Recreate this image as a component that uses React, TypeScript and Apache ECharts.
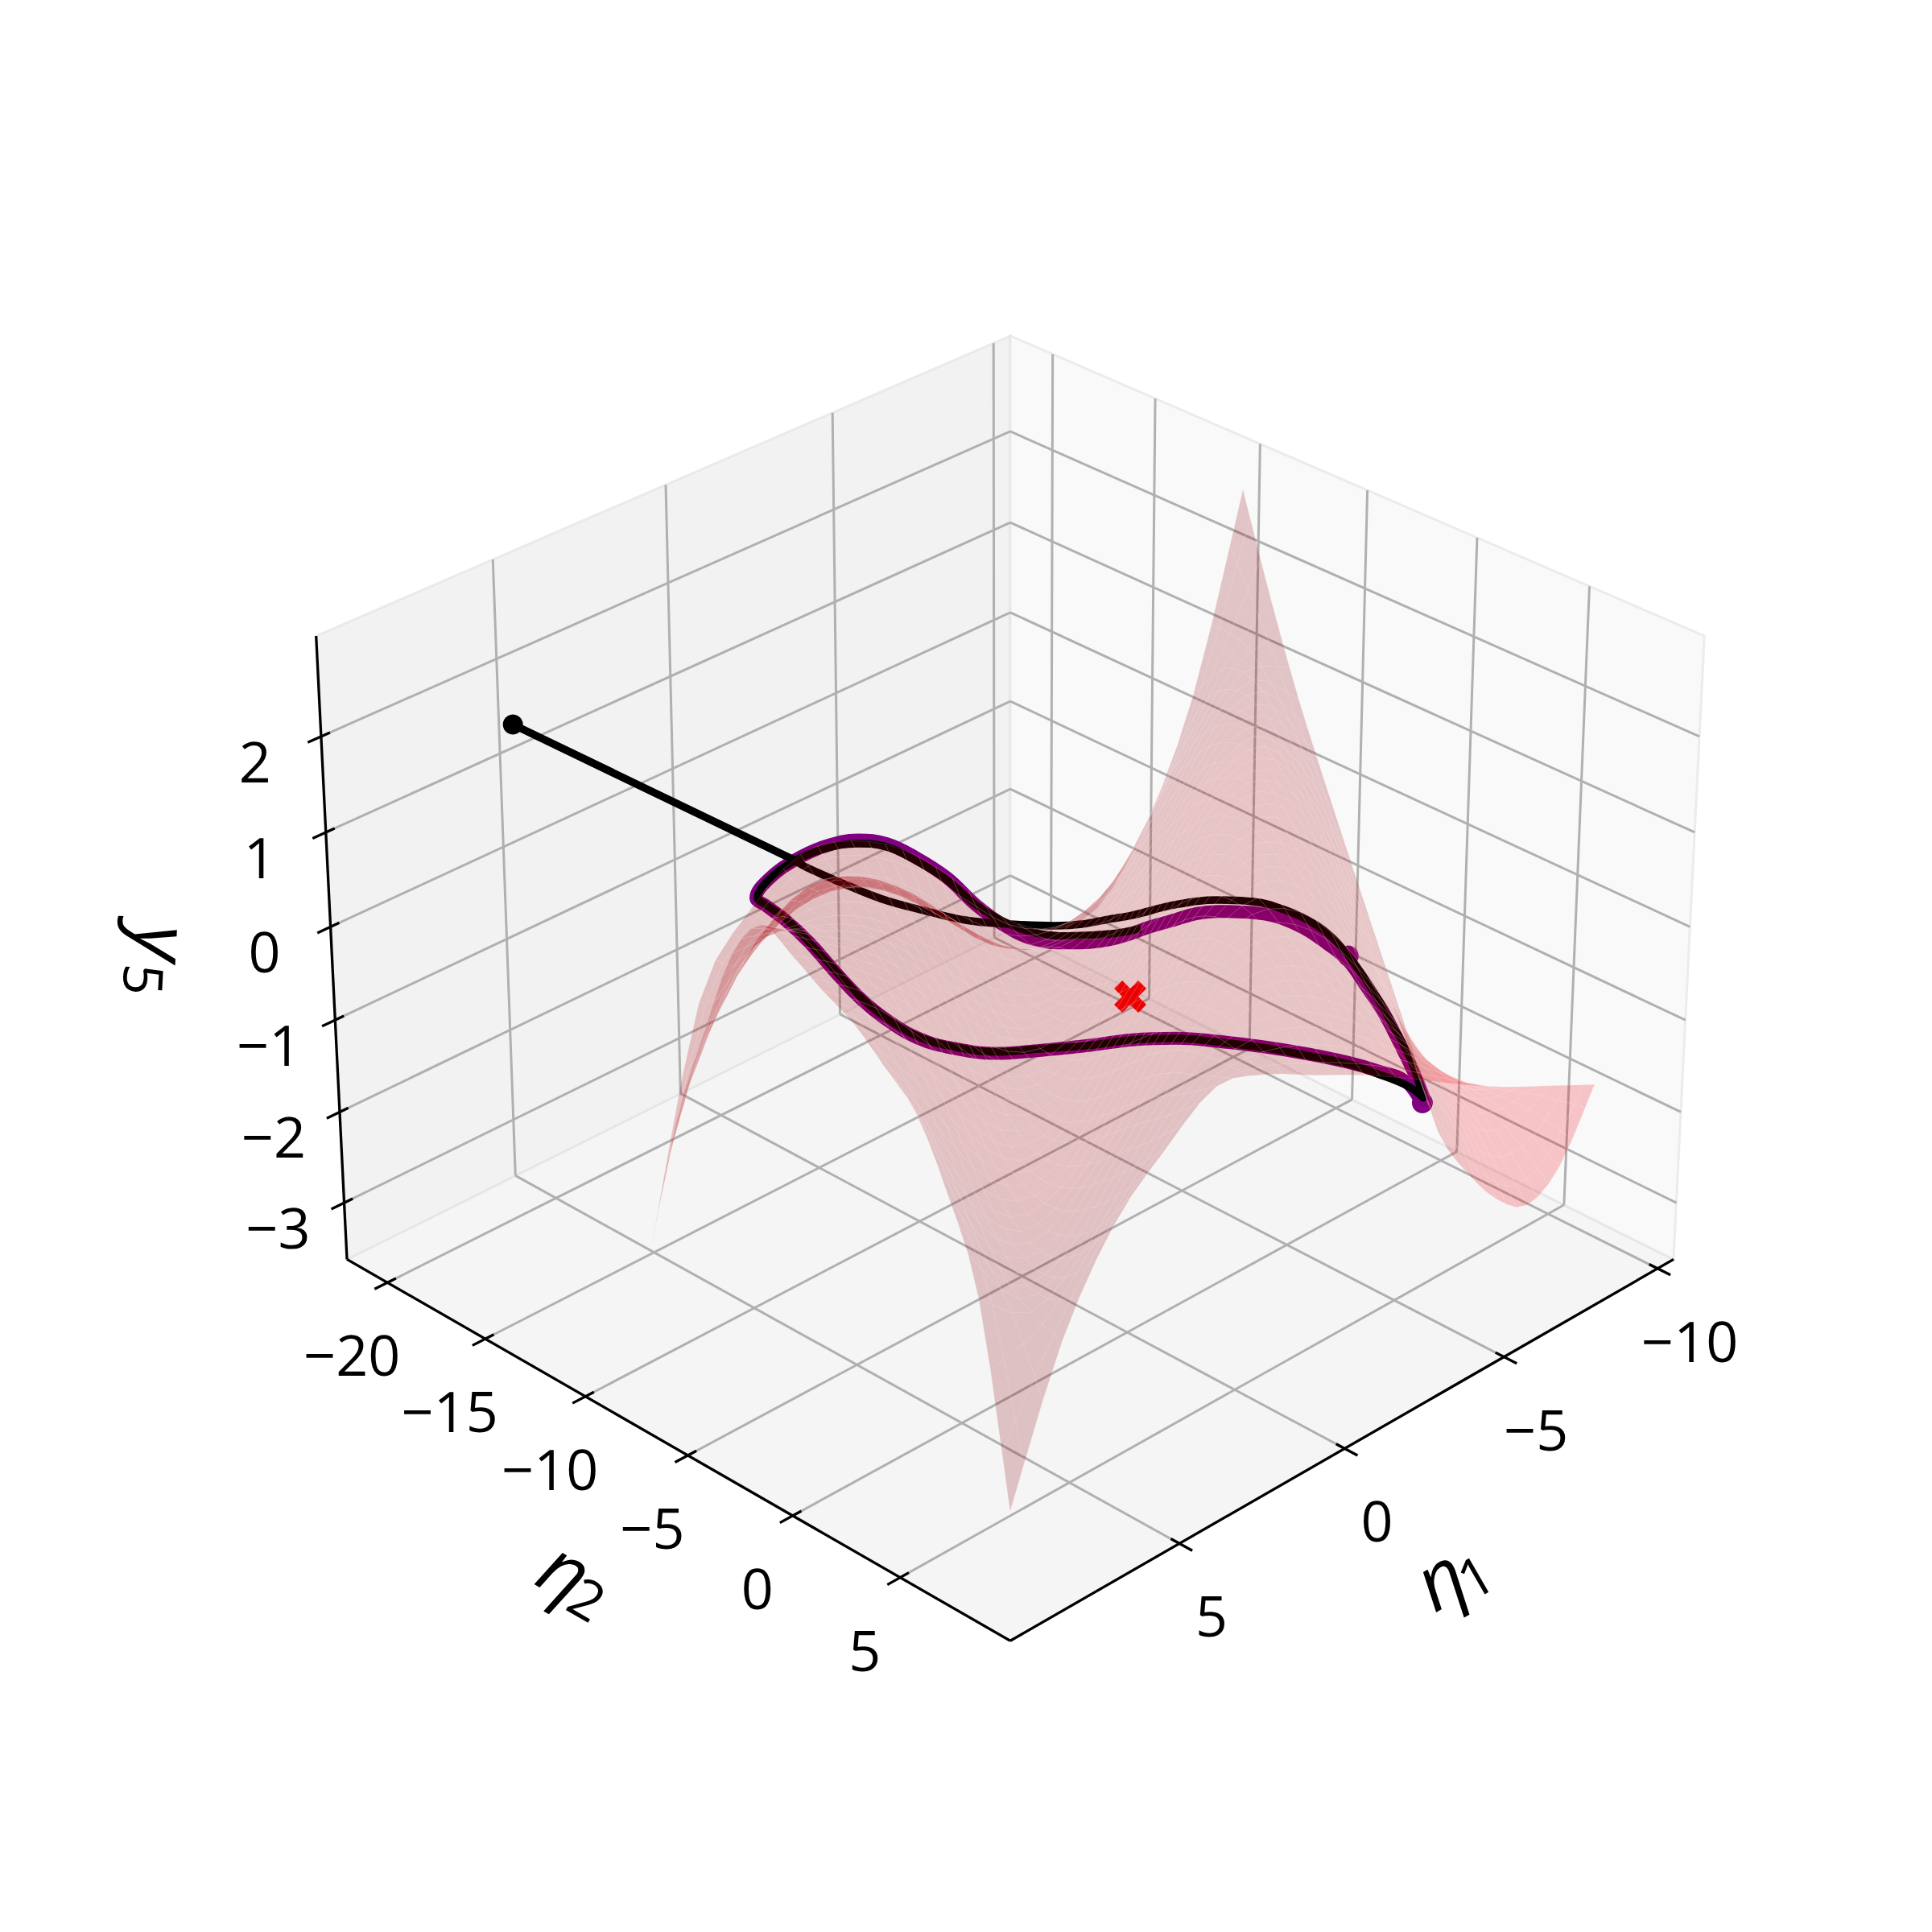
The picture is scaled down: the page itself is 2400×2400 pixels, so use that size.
import React, { useEffect, useRef } from "react";
import * as echarts from "echarts";

const eta1Ticks = [-10, -5, 0, 5];
const eta2Ticks = [-20, -15, -10, -5, 0, 5];
const y5Ticks = [-3, -2, -1, 0, 1, 2];

const eta1Grid = [-8.87,-7.39,-5.91,-4.43,-2.96,-1.48,0,1.48,2.96,4.43,5.91,7.39,8.87];
const eta2Grid = [-8.33,-6.94,-5.55,-4.17,-2.78,-1.39,0,1.39,2.78,4.17,5.55,6.94,8.33];
// y5 on the manifold: one row per eta1Grid value, one column per eta2Grid value
const y5Surface: number[][] = [
  [2.97,1.95,1.02,0.22,-0.56,-1.33,-2.10,-2.93,-3.22,-3.35,-3.25,-2.65,-1.59],
  [1.02,1.45,1.48,1.16,0.61,-0.04,-0.71,-1.35,-1.81,-2.10,-2.15,-1.87,-1.33],
  [-0.15,0.65,1.16,1.39,1.31,0.95,0.42,-0.15,-0.65,-1.05,-1.27,-1.26,-1.07],
  [-0.78,-0.12,0.39,0.87,1.22,1.32,1.11,0.72,0.25,-0.19,-0.53,-0.71,-0.77],
  [-0.75,-0.48,-0.22,0.16,0.60,0.98,1.17,1.12,0.85,0.46,0.08,-0.23,-0.44],
  [-0.35,-0.50,-0.37,-0.32,-0.04,0.34,0.71,0.96,1.00,0.83,0.53,0.18,-0.13],
  [0.32,-0.18,-0.12,-0.44,-0.41,-0.22,0.10,0.44,0.70,0.80,0.71,0.46,0.14],
  [0.88,0.38,0.39,-0.12,-0.40,-0.51,-0.40,-0.15,0.15,0.42,0.55,0.52,0.42],
  [1.22,0.86,0.99,0.50,0.08,-0.32,-0.56,-0.61,-0.43,-0.14,0.13,0.33,0.57],
  [1.33,1.10,1.41,1.07,0.76,0.32,-0.17,-0.61,-0.78,-0.71,-0.47,-0.16,0.20],
  [1.00,1.02,1.56,1.42,1.29,1.00,0.57,0.02,-0.51,-0.88,-0.97,-0.76,-0.30],
  [0.30,0.58,1.26,1.54,1.63,1.48,1.21,0.82,0.31,-0.27,-0.81,-1.09,-1.22],
  [-1.97,-0.45,0.60,1.55,2.00,1.85,1.65,1.48,1.20,0.90,0.25,-0.66,-2.70],
];

const trajStart = [[4.99,-21.4,1.38],[3.963,-9.393,1.074]];
const blackE1 = [3.963,3.847,3.475,2.972,2.417,1.856,1.24,.608,.178,-.29,-.64,-1.363,-2.028,-2.53,-2.934,-3.263,-3.445,-3.565,-3.645,-3.682,-3.688,-3.593,-3.462,-3.091,-2.735,-2.156,-1.58,-.975,-.371,.285,.956,1.736,2.403,2.995,3.436,3.774,4.0,4.181,4.357,4.529,4.723,4.791,4.491,3.969,3.451,2.899,2.504,2.174,1.854,1.609,1.308,.955,.482,-.179,-.659];
const blackE2 = [-9.393,-9.053,-8.138,-6.945,-5.794,-4.689,-3.633,-2.605,-1.967,-1.355,-.893,-.006,.934,1.757,2.585,3.414,4.066,4.814,5.622,6.501,7.314,7.987,7.52,6.64,5.853,4.738,3.658,2.585,1.551,.556,-.374,-1.51,-2.485,-3.539,-4.457,-5.424,-6.268,-7.182,-8.104,-8.918,-9.552,-9.818,-9.766,-9.385,-8.85,-8.107,-7.416,-6.585,-5.629,-4.666,-3.79,-2.994,-2.166,-1.181,-.548];
const blackY5 = [1.074,1.021,.908,.772,.677,.6,.57,.558,.57,.612,.641,.725,.76,.748,.683,.576,.452,.263,.031,-.247,-.52,-.799,-.71,-.609,-.532,-.461,-.402,-.36,-.33,-.342,-.385,-.413,-.437,-.396,-.318,-.171,-.005,.209,.428,.612,.724,.778,.92,1.069,1.163,1.205,1.18,1.074,.92,.724,.588,.505,.476,.494,.535];
const purpleE1 = [-3.53,-3.453,-3.113,-2.746,-2.167,-1.586,-.981,-.371,.285,.956,1.747,2.414,3.007,3.447,3.785,4.011,4.192,4.357,4.54,4.729,4.815,4.485,3.963,3.435,2.871,2.481,2.152,1.837,1.609,1.336,1.006,.532,-.139,-.967,-1.945,-2.368,-2.765,-3.092,-3.322,-3.498,-3.569,-3.638,-3.648,-3.64,-3.59];
const purpleE2 = [8.012,7.384,6.606,5.835,4.721,3.649,2.577,1.551,.556,-.374,-1.492,-2.468,-3.521,-4.44,-5.408,-6.251,-7.165,-8.104,-8.901,-9.542,-9.856,-9.774,-9.393,-8.876,-8.15,-7.452,-6.62,-5.655,-4.666,-3.747,-2.915,-2.086,-1.118,-.17,1.066,1.749,2.475,3.271,3.997,4.656,5.33,6.047,6.815,7.501,8.106];
const purpleY5 = [-.84,-.668,-.585,-.52,-.449,-.395,-.355,-.33,-.342,-.385,-.426,-.449,-.408,-.331,-.182,-.017,.197,.428,.6,.718,.778,.926,1.074,1.18,1.234,1.205,1.098,.938,.724,.558,.451,.422,.451,.57,.671,.664,.629,.535,.41,.28,.091,-.118,-.372,-.609,-.84];
const purpleDots = [[-3.543,8.029,-.839],[-3.53,4.6,.32]];
const blackDot = [4.99,-21.4,1.38];
const equilibrium = [0,0,0];

const E1L = [-10.53, 9.93], E2L = [-22.1, 10], Y5L = [-3.63, 3.035];
const R = eta1Grid[12], Q = eta2Grid[12];
const c1 = (E1L[0]+E1L[1])/2, h1 = (E1L[1]-E1L[0])/2;
const c2 = (E2L[0]+E2L[1])/2, h2 = (E2L[1]-E2L[0])/2;
const c3 = (Y5L[0]+Y5L[1])/2, h3 = (Y5L[1]-Y5L[0])/2;
const D = 16.5, S = 9832, X0 = 1255, Y0 = 1186;
function project(e1: number, e2: number, z: number): [number, number] {
  const px = (e1-c1)/h1, py = (e2-c2)/h2, pz = 0.75*(z-c3)/h3;
  const r = 0.70711*(py-px), up = -0.35355*(px+py)+0.86603*pz, t = 0.61237*(px+py)+0.5*pz;
  const w = S/(D-t);
  return [X0+r*w, Y0-up*w];
}
function cr(a:number,b:number,c:number,d:number,s:number){
  return 0.5*((2*b)+(-a+c)*s+(2*a-5*b+4*c-d)*s*s+(-a+3*b-3*c+d)*s*s*s);
}
const SUB = 3;
function sampleLine(v:number[]){
  const out:number[]=[]; const n=v.length;
  for(let i=0;i<n-1;i++){ for(let k=0;k<SUB;k++){ const s=k/SUB;
    out.push(cr(v[Math.max(i-1,0)],v[i],v[i+1],v[Math.min(i+2,n-1)],s)); } }
  out.push(v[n-1]); return out;
}
function surfaceCells(){
  const rows=y5Surface.map(sampleLine);
  const cols=rows[0].map((_,j)=>sampleLine(rows.map(r=>r[j])));
  const zz=cols[0].map((_,i)=>cols.map(c=>c[i]));
  const ee1=sampleLine(eta1Grid), ee2=sampleLine(eta2Grid);
  const cells:any[]=[];
  for(let i=0;i<ee1.length-1;i++) for(let j=0;j<ee2.length-1;j++){
    const a=project(ee1[i],ee2[j],zz[i][j]),b=project(ee1[i+1],ee2[j],zz[i+1][j]),c=project(ee1[i+1],ee2[j+1],zz[i+1][j+1]),d=project(ee1[i],ee2[j+1],zz[i][j+1]);
    const xi=(ee1[i]+ee1[i+1])/2/R, nu=(ee2[j]+ee2[j+1])/2/Q;
    const wing=Math.max(0,Math.min(1,(nu-xi-1.1)/.3));
    const spike=Math.max(0,Math.min(1,(Math.abs(xi+nu)/2-.45)/.4));
    const f=.65+.28*wing-.12*spike;
    cells.push([a[0],a[1],b[0],b[1],c[0],c[1],d[0],d[1],f]);
  }
  return cells;
}
function frameSegments(){
  const seg:any[]=[];
  const add=(p:number[],q:number[],k:number)=>{const a=project(p[0],p[1],p[2]),b=project(q[0],q[1],q[2]);seg.push([a[0],a[1],b[0],b[1],k]);};
  const [x0,x1]=E1L,[y0,y1]=E2L,[z0,z1]=Y5L;
  for(const t of eta1Ticks){ add([t,y0,z0],[t,y1,z0],0); add([t,y0,z0],[t,y0,z1],0); }
  for(const t of eta2Ticks){ add([x0,t,z0],[x1,t,z0],0); add([x0,t,z0],[x0,t,z1],0); }
  for(const t of y5Ticks){ add([x0,y0,t],[x1,y0,t],0); add([x0,y0,t],[x0,y1,t],0); }
  add([x1,y0,z0],[x1,y1,z0],1); add([x0,y1,z0],[x1,y1,z0],1); add([x1,y0,z0],[x1,y0,z1],1);
  const dx=(x1-x0)/2*0.036,dxi=(x1-x0)/2*0.024,dy=(y1-y0)/2*0.036,dyi=(y1-y0)/2*0.024;
  for(const t of eta1Ticks) add([t,y1+dy,z0],[t,y1-dyi,z0],1);
  for(const t of eta2Ticks) add([x1+dx,t,z0],[x1-dxi,t,z0],1);
  for(const t of y5Ticks) add([x1+dx,y0,t],[x1-dxi,y0,t],1);
  return seg;
}
function panes(){
  const [x0,x1]=E1L,[y0,y1]=E2L,[z0,z1]=Y5L;
  const q=(l:number[][],c:string)=>{const p=l.map(v=>project(v[0],v[1],v[2]));return [p[0][0],p[0][1],p[1][0],p[1][1],p[2][0],p[2][1],p[3][0],p[3][1],c];};
  return [
    q([[x0,y0,z0],[x1,y0,z0],[x1,y1,z0],[x0,y1,z0]],"#f5f5f5"),
    q([[x0,y0,z0],[x1,y0,z0],[x1,y0,z1],[x0,y0,z1]],"#f2f2f2"),
    q([[x0,y0,z0],[x0,y1,z0],[x0,y1,z1],[x0,y0,z1]],"#f9f9f9"),
  ];
}
const polyCoord=(api:any)=>[0,2,4,6].map(k=>api.coord([api.value(k),api.value(k+1)]));
const FONT="Open Sans";
function labels(){
  const g:any[]=[];
  const t=(s:string,x:number,y:number,size:number,rot=0,italic=false)=>g.push({type:"text",x,y,rotation:rot*Math.PI/180,z:100,style:{text:s,font:`${italic?"italic ":""}${size}px "${FONT}"`,fill:"#000",textAlign:"center",textVerticalAlign:"middle"}});
  const [,x1]=E1L,[y0,y1]=E2L,[z0]=Y5L;
  const fmt=(v:number)=>(v<0?"\u2212"+(-v):""+v);
  for(const v of eta1Ticks){const p=project(v,y1,z0);t(fmt(v),p[0]+40,p[1]+89,70);}
  for(const v of eta2Ticks){const p=project(x1,v,z0);t(fmt(v),p[0]-44,p[1]+89,70);}
  for(const v of y5Ticks){const p=project(x1,y0,v);t(fmt(v),p[0]-82,p[1]+30,70);}
  t("\u03b7",1787,1958,96,30,true);t("1",1832,1957,68,30);
  t("\u03b7",704,1948,96,-30,true);t("2",730,1985,68,-30);
  t("y",205,1172,96,-93,true);t("5",180,1217,68,-93);
  return g;
}
export default function App(){
  const ref=useRef<HTMLDivElement>(null);
  useEffect(()=>{
    const chart=echarts.init(ref.current!,undefined,{renderer:"svg"});
    const proj=(a:number[][])=>a.map(p=>project(p[0],p[1],p[2]));
    const zip=(a:number[],b:number[],c:number[])=>a.map((v,i)=>[v,b[i],c[i]]);
    chart.setOption({
      animation:false,
      grid:{left:0,top:0,width:2400,height:2400},
      xAxis:{type:"value",min:0,max:2400,show:false},
      yAxis:{type:"value",min:0,max:2400,inverse:true,show:false},
      graphic:labels(),
      series:[
        {type:"custom",silent:true,z:1,clip:false,data:panes(),renderItem:(_:any,api:any)=>({type:"polygon",shape:{points:polyCoord(api)},style:{fill:api.value(8),stroke:"rgba(225,225,225,0.6)",lineWidth:3}}),dimensions:[0,1,2,3,4,5,6,7,{name:"c",type:"ordinal"}]},
        {type:"custom",silent:true,z:2,clip:false,data:frameSegments(),renderItem:(_:any,api:any)=>{const a=api.coord([api.value(0),api.value(1)]),b=api.coord([api.value(2),api.value(3)]);const k=api.value(4);return {type:"line",shape:{x1:a[0],y1:a[1],x2:b[0],y2:b[1]},style:{stroke:k?"#000":"#b0b0b0",lineWidth:k?3.3:3}};}},
        {type:"line",z:3,silent:true,symbol:"none",smooth:0.4,data:proj(zip(purpleE1,purpleE2,purpleY5)),lineStyle:{color:"#800080",width:16,cap:"round",join:"round"}},
        {type:"scatter",z:3,silent:true,symbol:"circle",symbolSize:26,data:proj(purpleDots),itemStyle:{color:"#800080",opacity:1}},
        {type:"line",z:4,silent:true,symbol:"none",data:proj(trajStart),lineStyle:{color:"#000",width:9.5,cap:"round"}},
        {type:"line",z:4,silent:true,symbol:"none",smooth:0.4,data:proj(zip(blackE1,blackE2,blackY5)),lineStyle:{color:"#000",width:9.5,cap:"butt",join:"round"}},
        {type:"scatter",z:5,silent:true,symbol:"circle",symbolSize:25,data:proj([blackDot]),itemStyle:{color:"#000",opacity:1}},
        {type:"scatter",z:5,silent:true,symbol:"path://M1 0L2 1L3 0L4 1L3 2L4 3L3 4L2 3L1 4L0 3L1 2L0 1Z",symbolSize:40,data:proj([equilibrium]),itemStyle:{color:"#ff0000",opacity:1}},
        {type:"custom",silent:true,z:6,clip:false,data:surfaceCells(),renderItem:(_:any,api:any)=>{const f=api.value(8);const rr=Math.round(255*f);return {type:"polygon",shape:{points:polyCoord(api)},style:{fill:`rgba(${rr},0,8,0.21)`,stroke:"rgba(255,235,235,0.14)",lineWidth:1}};}},
      ],
    });
    return ()=>chart.dispose();
  },[]);
  return <div ref={ref} style={{position:"fixed",left:0,top:0,width:2400,height:2400,background:"#fff"}}/>;
}
